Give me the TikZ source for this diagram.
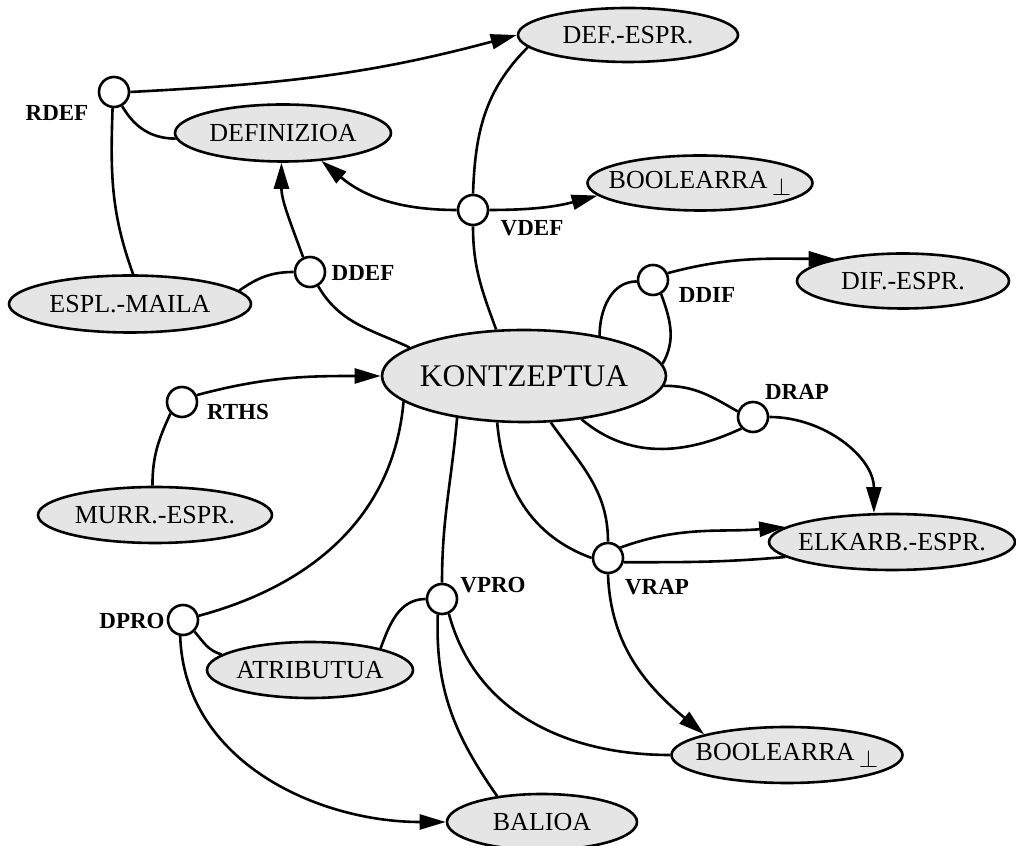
\documentclass[tikz,border=0pt]{standalone}
\usepackage{fontspec}
\setmainfont{Liberation Serif}
\usetikzlibrary{shapes.geometric,arrows.meta}

\tikzset{
  ent/.style={ellipse, draw, line width=2.6pt, fill=black!10, inner sep=0pt,
              font=\fontsize{26}{30}\selectfont},
  rel/.style={circle, draw, line width=2.6pt, fill=white, inner sep=0pt,
              minimum size=30pt},
  tag/.style={font=\fontsize{23}{26}\selectfont\bfseries, inner sep=0pt},
  con/.style={line width=2.6pt},
  arr/.style={con, -{Triangle[length=26pt,width=15pt]}},
}
\newcommand{\enttext}[1]{\makebox[0pt]{#1}}
\newcommand{\falsum}{\,\raisebox{-7pt}{$\perp$}}

\begin{document}
\begin{tikzpicture}[x=1pt,y=1pt]
\useasboundingbox (0,0) rectangle (1016,845);

% entities
\node[ent, minimum width=220pt, minimum height=54pt] (defespr) at (628,810) {\enttext{DEF.-ESPR.}};
\node[ent, minimum width=216pt, minimum height=57pt] (definizioa) at (283,712) {\enttext{DEFINIZIOA}};
\node[ent, minimum width=225pt, minimum height=55pt] (boolT) at (700,662) {\enttext{BOOLEARRA\falsum}};
\node[ent, minimum width=242pt, minimum height=57pt] (espl) at (130,541) {\enttext{ESPL.-MAILA}};
\node[ent, minimum width=212pt, minimum height=55pt] (difespr) at (903,564) {\enttext{DIF.-ESPR.}};
\node[ent, minimum width=284pt, minimum height=92pt, font=\fontsize{31.5}{34}\selectfont] (kon) at (524,469) {\enttext{KONTZEPTUA}};
\node[ent, minimum width=234pt, minimum height=56pt] (murr) at (155,330) {\enttext{MURR.-ESPR.}};
\node[ent, minimum width=246pt, minimum height=56pt] (elkarb) at (892,303) {\enttext{ELKARB.-ESPR.}};
\node[ent, minimum width=206pt, minimum height=56pt] (atrib) at (310,175) {\enttext{ATRIBUTUA}};
\node[ent, minimum width=231pt, minimum height=56pt] (boolB) at (787,90) {\enttext{BOOLEARRA\falsum}};
\node[ent, minimum width=190pt, minimum height=56pt] (balioa) at (542,23) {\enttext{BALIOA}};

% relation points
\node[rel] (rdef) at (114,753) {};
\node[rel] (vdef) at (473,635) {};
\node[rel] (ddef) at (310,573) {};
\node[rel] (ddif) at (653,565) {};
\node[rel] (drap) at (753,428) {};
\node[rel] (rths) at (182,443) {};
\node[rel] (vrap) at (608,287) {};
\node[rel] (vpro) at (442,246) {};
\node[rel] (dpro) at (183,225) {};

% relation names
\node[tag] (trdef) at (57,732) {RDEF};
\node[tag] (tvdef) at (532,617) {VDEF};
\node[tag] (tddef) at (363,572) {DDEF};
\node[tag] (tddif) at (707,550) {DDIF};
\node[tag] (tdrap) at (797,453) {DRAP};
\node[tag] (trths) at (238,433) {RTHS};
\node[tag] (tvrap) at (657,258) {VRAP};
\node[tag] (tvpro) at (493,260) {VPRO};
\node[tag] (tdpro) at (132,224) {DPRO};

% RDEF
\draw[arr] (rdef.east) to[out=3, in=195] (defespr.west);
\draw[con] (rdef.-60) to[out=-60, in=180] (definizioa.183);
\draw[con] (rdef.-95) to[out=-92, in=110] (espl.84);
% DDEF
\draw[arr] (ddef.115) to[out=110, in=-90] (definizioa.-93);
\draw[con] (ddef.west) to[out=180, in=35] (espl.7);
\draw[con] (ddef.-60) to[out=-60, in=155] (kon.166);
% VDEF
\draw[arr] (vdef.west) to[out=180, in=-40] (definizioa.-36);
\draw[arr] (vdef.east) to[out=0, in=195] (boolT.187);
\draw[con] (vdef.north) to[out=88, in=225] (defespr.187);
\draw[con] (vdef.south) to[out=-90, in=110] (kon.121);
% DDIF
\draw[con] (ddif.185) to[out=180, in=90] (kon.28);
\draw[con] (ddif.-60) to[out=-70, in=60] (kon.5);
\draw[arr] (ddif.25) to[out=15, in=180] (difespr.162);
% DRAP
\draw[con] (kon.-4) to[out=0, in=150] (drap.160);
\draw[con] (kon.-37) to[out=-40, in=205] (drap.225);
\draw[arr] (drap.east) to[out=0, in=90] (elkarb.122);
% VRAP
\draw[con] (kon.240) to[out=-85, in=160] (vrap.west);
\draw[con] (kon.300) to[out=-55, in=90] (vrap.north);
\draw[arr] (vrap.40) to[out=20, in=185] (elkarb.172);
\draw[con] (vrap.-15) to[out=0, in=185] (elkarb.188);
\draw[arr] (vrap.south) to[out=-88, in=140] (boolB.166);
% VPRO
\draw[con] (kon.212) to[out=-95, in=90] (vpro.north);
\draw[con] (vpro.west) to[out=180, in=70] (atrib.17);
\draw[con] (vpro.255) to[out=-92, in=125] (balioa.150);
\draw[con] (vpro.295) to[out=-75, in=180] (boolB.west);
% DPRO
\draw[con] (kon.192) to[out=-95, in=15] (dpro.15);
\draw[con] (dpro.-45) to[out=-50, in=165] (atrib.170);
\draw[arr] (dpro.260) to[out=-88, in=180] (balioa.west);
% RTHS
\draw[arr] (rths.25) to[out=15, in=180] (kon.west);
\draw[con] (rths.225) to[out=-115, in=90] (murr.95);
\end{tikzpicture}
\end{document}
